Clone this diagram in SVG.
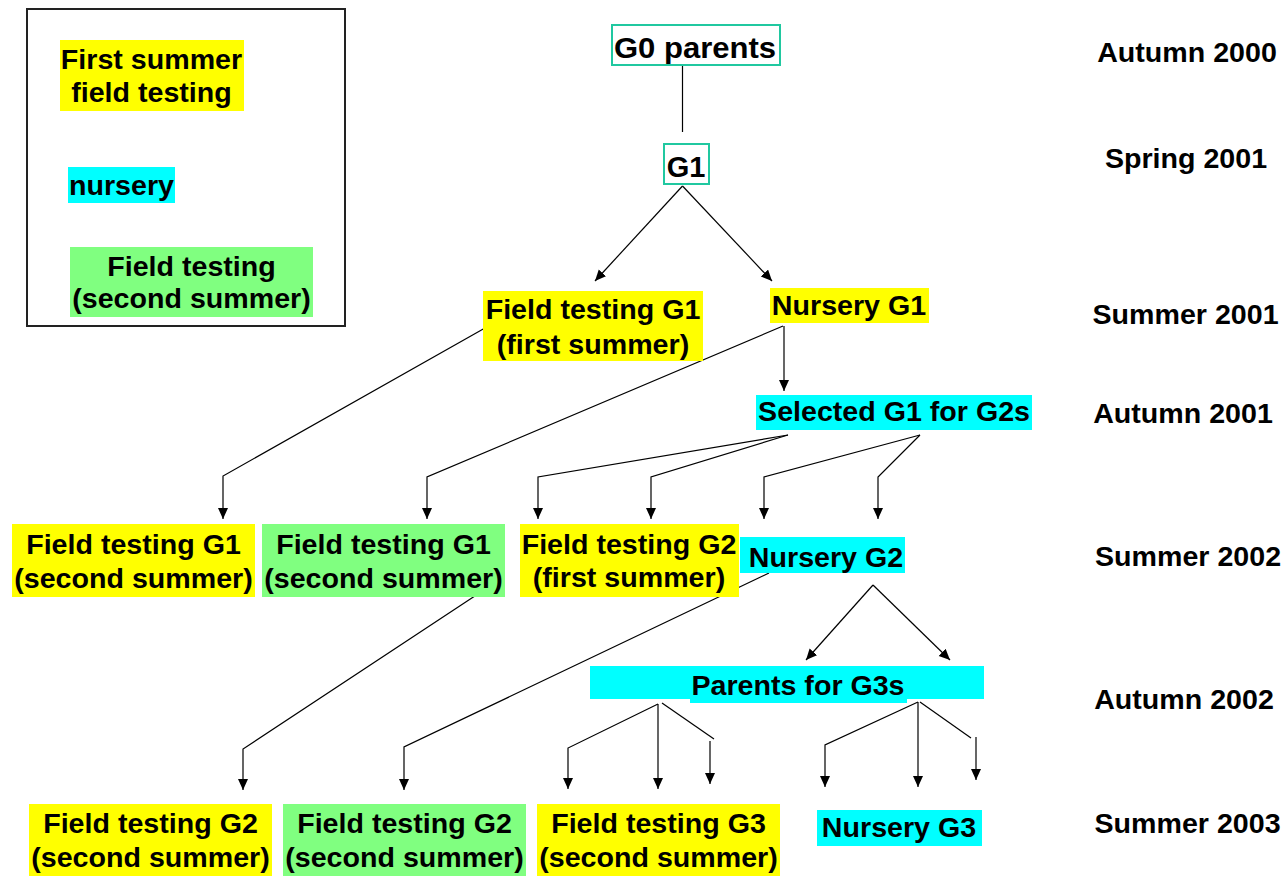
<svg xmlns="http://www.w3.org/2000/svg" width="1286" height="876" viewBox="0 0 1286 876">
<defs>
<style>
.t{font-family:"Liberation Sans",Arial,sans-serif;font-weight:bold;font-size:27px;fill:#000;text-anchor:middle}
.big{font-size:29px}
.y{fill:#FFFF00}
.c{fill:#00FFFF}
.g{fill:#80FF80}
.tb{fill:#fff;stroke:#20C8A0;stroke-width:2}
.ln{fill:none;stroke:#000;stroke-width:1.2}
.ar{fill:none;stroke:#000;stroke-width:1.2;marker-end:url(#ah)}
</style>
<marker id="ah" markerUnits="userSpaceOnUse" markerWidth="12" markerHeight="12" refX="11" refY="5" orient="auto">
<path d="M0,0 L11,5 L0,10 z" fill="#000"/>
</marker>
</defs>
<rect width="1286" height="876" fill="#fff"/>

<g id="connectors">
<line class="ln" x1="682.5" y1="65" x2="682.5" y2="132" stroke="#444"/>
<line class="ar" x1="682.5" y1="186" x2="595" y2="281"/>
<line class="ar" x1="682.5" y1="186" x2="772" y2="281"/>
<line class="ar" x1="784" y1="326" x2="784" y2="391"/>
<polyline class="ar" points="485,328 223,476 223,519"/>
<polyline class="ar" points="783,326 427,477 427,519"/>
<polyline class="ar" points="788,435 538,477 538,519"/>
<polyline class="ar" points="788,435 651,477 651,519"/>
<polyline class="ar" points="920,435 764,477 764,519"/>
<polyline class="ar" points="920,435 878,477 878,519"/>
<line class="ar" x1="873" y1="585" x2="806" y2="660"/>
<line class="ar" x1="873" y1="585" x2="950" y2="660"/>
<polyline class="ar" points="490,586 243,749 243,790"/>
<polyline class="ar" points="769,573 404,747 404,790"/>
<polyline class="ar" points="658,704 568,748 568,789"/>
<line class="ar" x1="658" y1="704" x2="658" y2="789"/>
<line class="ln" x1="662" y1="703" x2="714" y2="739"/>
<line class="ar" x1="710" y1="741" x2="710" y2="784"/>
<polyline class="ar" points="918,702 825,745 825,787"/>
<line class="ar" x1="918" y1="702" x2="918" y2="787"/>
<line class="ln" x1="920" y1="702" x2="971" y2="738"/>
<line class="ar" x1="976" y1="737" x2="976" y2="780"/>
</g>

<g id="legend">
<rect x="27" y="9" width="318" height="317" fill="none" stroke="#222" stroke-width="2"/>
<rect class="y" x="60" y="40" width="184" height="71"/>
<text class="t" transform="translate(151.5,69) scale(1.06,1)"><tspan x="0" y="0">First summer</tspan><tspan x="0" y="33">field testing</tspan></text>
<rect class="c" x="68" y="167" width="107" height="36"/>
<text class="t" transform="translate(121.5,195) scale(1.06,1)">nursery</text>
<rect class="g" x="70" y="247" width="243" height="70"/>
<text class="t" transform="translate(191.5,276) scale(1.06,1)"><tspan x="0" y="0">Field testing</tspan><tspan x="0" y="32">(second summer)</tspan></text>
</g>

<g id="n-g0">
<rect class="tb" x="612" y="25" width="168" height="40"/>
<text class="t big" transform="translate(695,57.5) scale(1.07,1)">G0 parents</text>
</g>
<g id="n-g1">
<rect class="tb" x="664" y="144" width="45" height="40"/>
<text class="t big" x="686" y="176.5">G1</text>
</g>

<g id="n-ft-g1-first">
<rect class="y" x="483" y="291" width="220" height="70"/>
<text class="t" transform="translate(593,318.5) scale(1.06,1)"><tspan x="0" y="0">Field testing G1</tspan><tspan x="0" y="35.5">(first summer)</tspan></text>
</g>
<g id="n-nursery-g1">
<rect class="y" x="770" y="288" width="159" height="35"/>
<text class="t" transform="translate(849,315) scale(1.06,1)">Nursery G1</text>
</g>
<g id="n-selected-g1">
<rect class="c" x="756" y="395" width="276" height="35"/>
<text class="t" transform="translate(894,421) scale(1.06,1)">Selected G1 for G2s</text>
</g>

<g id="n-ft-g1-second-y">
<rect class="y" x="12" y="524" width="243" height="73"/>
<text class="t" transform="translate(133.5,554) scale(1.06,1)"><tspan x="0" y="0">Field testing G1</tspan><tspan x="0" y="34">(second summer)</tspan></text>
</g>
<g id="n-ft-g1-second-g">
<rect class="g" x="262" y="524" width="243" height="73"/>
<text class="t" transform="translate(383.5,554) scale(1.06,1)"><tspan x="0" y="0">Field testing G1</tspan><tspan x="0" y="34">(second summer)</tspan></text>
</g>
<g id="n-ft-g2-first">
<rect class="y" x="520" y="524" width="219" height="73"/>
<text class="t" transform="translate(629,554) scale(1.06,1)"><tspan x="0" y="0">Field testing G2</tspan><tspan x="0" y="33">(first summer)</tspan></text>
</g>
<g id="n-nursery-g2">
<rect class="c" x="740" y="537" width="165" height="36"/>
<text class="t" transform="translate(826,567) scale(1.06,1)">Nursery G2</text>
</g>

<g id="n-parents-g3">
<rect class="c" x="590" y="666" width="394" height="33"/>
<rect class="c" x="690" y="666" width="217" height="37"/>
<text class="t" transform="translate(798,695) scale(1.06,1)">Parents for G3s</text>
</g>

<g id="n-ft-g2-second-y">
<rect class="y" x="29" y="804" width="243" height="72"/>
<text class="t" transform="translate(150.5,833) scale(1.06,1)"><tspan x="0" y="0">Field testing G2</tspan><tspan x="0" y="34">(second summer)</tspan></text>
</g>
<g id="n-ft-g2-second-g">
<rect class="g" x="283" y="804" width="243" height="72"/>
<text class="t" transform="translate(404.5,833) scale(1.06,1)"><tspan x="0" y="0">Field testing G2</tspan><tspan x="0" y="34">(second summer)</tspan></text>
</g>
<g id="n-ft-g3-second">
<rect class="y" x="537" y="804" width="243" height="72"/>
<text class="t" transform="translate(658.5,833) scale(1.06,1)"><tspan x="0" y="0">Field testing G3</tspan><tspan x="0" y="34">(second summer)</tspan></text>
</g>
<g id="n-nursery-g3">
<rect class="c" x="817" y="810" width="165" height="36"/>
<text class="t" transform="translate(899,837) scale(1.06,1)">Nursery G3</text>
</g>

<g id="seasons">
<text class="t" transform="translate(1187,62) scale(1.06,1)">Autumn 2000</text>
<text class="t" transform="translate(1186,168) scale(1.06,1)">Spring 2001</text>
<text class="t" transform="translate(1185.5,324) scale(1.06,1)">Summer 2001</text>
<text class="t" transform="translate(1183,423) scale(1.06,1)">Autumn 2001</text>
<text class="t" transform="translate(1188,566) scale(1.06,1)">Summer 2002</text>
<text class="t" transform="translate(1184,709) scale(1.06,1)">Autumn 2002</text>
<text class="t" transform="translate(1187.5,833) scale(1.06,1)">Summer 2003</text>
</g>
</svg>
